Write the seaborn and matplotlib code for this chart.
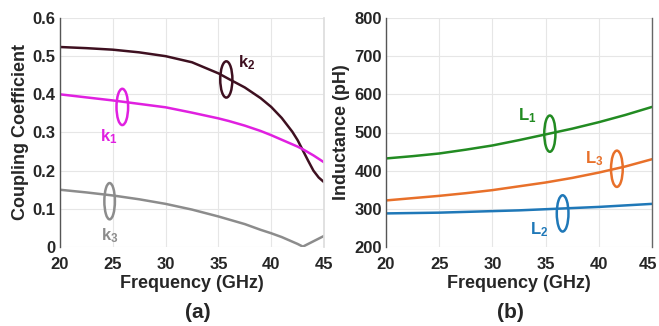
import numpy as np
import pandas as pd
import matplotlib
matplotlib.use("Agg")
import matplotlib.pyplot as plt
import matplotlib.transforms as mtransforms
from matplotlib.patches import Ellipse
import seaborn as sns

freq = [20, 22.5, 25, 27.5, 30, 32.5, 35, 36, 37.5, 39, 40, 41, 42, 42.5, 43, 43.5, 44, 44.5, 45]
k1 = [0.400, 0.392, 0.384, 0.375, 0.366, 0.352, 0.337, 0.330, 0.318, 0.304, 0.293,
      0.281, 0.269, 0.263, 0.256, 0.248, 0.240, 0.231, 0.222]
k2 = [0.524, 0.521, 0.517, 0.510, 0.500, 0.484, 0.455, 0.440, 0.418, 0.390, 0.367,
      0.338, 0.302, 0.280, 0.253, 0.226, 0.200, 0.182, 0.170]
k3 = [0.150, 0.143, 0.135, 0.125, 0.113, 0.098, 0.080, 0.072, 0.060, 0.045, 0.036,
      0.026, 0.014, 0.008, 0.001, 0.008, 0.015, 0.022, 0.029]

freq_l = [20, 22.5, 25, 27.5, 30, 32.5, 35, 37.5, 40, 42.5, 45]
L1 = [432, 438, 445, 455, 466, 480, 495, 510, 527, 546, 567]
L2 = [288, 289, 290, 292, 294, 296, 299, 302, 305, 309, 313]
L3 = [322, 328, 334, 341, 349, 359, 369, 381, 395, 411, 430]

c_k1 = "#e020e0"
c_k2 = "#3e1020"
c_k3 = "#8c8c8c"
c_L1 = "#228b22"
c_L2 = "#1f78b8"
c_L3 = "#e8702a"

sns.set_theme(style="whitegrid")
plt.rcParams['font.family'] = ['Liberation Sans', 'DejaVu Sans']
plt.rcParams['mathtext.fontset'] = 'custom'
plt.rcParams['mathtext.bf'] = 'Liberation Sans:bold'
plt.rcParams['mathtext.rm'] = 'Liberation Sans:bold'

W, H = 659, 326
fig = plt.figure(figsize=(6.59, 3.26), dpi=100)
ax1 = fig.add_axes([60 / W, 1 - 247 / H, 264 / W, 229 / H])
ax2 = fig.add_axes([386 / W, 1 - 247 / H, 266 / W, 229 / H])

dk = pd.DataFrame({"f": freq, "k1": k1, "k2": k2, "k3": k3})
dl = pd.DataFrame({"f": freq_l, "L1": L1, "L2": L2, "L3": L3})

sns.lineplot(data=dk, x="f", y="k2", ax=ax1, color=c_k2, lw=1.8)
sns.lineplot(data=dk, x="f", y="k1", ax=ax1, color=c_k1, lw=1.8)
sns.lineplot(data=dk, x="f", y="k3", ax=ax1, color=c_k3, lw=1.8)

sns.lineplot(data=dl, x="f", y="L1", ax=ax2, color=c_L1, lw=1.8)
sns.lineplot(data=dl, x="f", y="L3", ax=ax2, color=c_L3, lw=1.8)
sns.lineplot(data=dl, x="f", y="L2", ax=ax2, color=c_L2, lw=1.8)

fs_tick = 12
fs_lab = 13
xt = [20, 25, 30, 35, 40, 45]

def style(ax, ylim, yticks, ylabel, yfmt):
    ax.set_xlim(20, 45)
    ax.set_ylim(*ylim)
    ax.set_xticks(xt)
    ax.set_yticks(yticks)
    ax.set_yticklabels([yfmt(v) for v in yticks], fontsize=fs_tick, fontweight='bold')
    ax.set_xticklabels([str(v) for v in xt], fontsize=fs_tick, fontweight='bold')
    ax.set_xlabel("Frequency (GHz)", fontsize=fs_lab, fontweight='bold', labelpad=2)
    ax.set_ylabel(ylabel, fontsize=fs_lab, fontweight='bold', labelpad=3)
    ax.grid(True, color="#e6e6e6", lw=0.8)
    ax.set_facecolor("white")
    for s in ["top", "bottom"]:
        ax.spines[s].set_visible(False)
    ax.spines["left"].set_color("#555555")
    ax.spines["left"].set_linewidth(1.0)
    ax.spines["right"].set_color("#dddddd")
    ax.tick_params(axis='x', length=0, pad=7)
    ax.tick_params(axis='y', length=0, pad=3)

style(ax1, (0, 0.6), [0, 0.1, 0.2, 0.3, 0.4, 0.5, 0.6], "Coupling Coefficient",
      lambda v: "0" if v == 0 else f"{v:.1f}")
style(ax2, (200, 800), [200, 300, 400, 500, 600, 700, 800], "Inductance (pH)",
      lambda v: str(v))
ax2.spines["right"].set_color("#666666")
ax2.spines["right"].set_linewidth(1.0)

# nudge the last tick label of the right panel so it stays inside the canvas
last = ax2.get_xticklabels()[-1]
last.set_transform(last.get_transform() +
                   mtransforms.ScaledTranslation(-4 / 100, 0, fig.dpi_scale_trans))

fig.text(198 / W, 1 - 303 / H, "(a)", ha='center', va='top', fontsize=15, fontweight='bold')
fig.text(510 / W, 1 - 303 / H, "(b)", ha='center', va='top', fontsize=15, fontweight='bold')

def ell(ax, x, y, w, h, c):
    ax.add_patch(Ellipse((x, y), w, h, fill=False, ec=c, lw=1.8, zorder=5))

ell(ax1, 35.75, 0.439, 1.15, 0.095, c_k2)
ell(ax1, 25.9, 0.367, 1.1, 0.095, c_k1)
ell(ax1, 24.7, 0.120, 1.0, 0.095, c_k3)
ax1.text(37.7, 0.482, r"$\mathbf{k_2}$", color=c_k2, fontsize=12, ha='center', va='center')
ax1.text(24.6, 0.288, r"$\mathbf{k_1}$", color=c_k1, fontsize=12, ha='center', va='center')
ax1.text(24.7, 0.030, r"$\mathbf{k_3}$", color=c_k3, fontsize=12, ha='center', va='center')

ell(ax2, 35.4, 497, 1.05, 95, c_L1)
ell(ax2, 41.7, 405, 1.1, 95, c_L3)
ell(ax2, 36.6, 288, 1.1, 95, c_L2)
ax2.text(33.3, 545, r"$\mathbf{L_1}$", color=c_L1, fontsize=12, ha='center', va='center')
ax2.text(39.6, 432, r"$\mathbf{L_3}$", color=c_L3, fontsize=12, ha='center', va='center')
ax2.text(34.4, 245, r"$\mathbf{L_2}$", color=c_L2, fontsize=12, ha='center', va='center')

fig.savefig("out.png", dpi=100, facecolor="white")
